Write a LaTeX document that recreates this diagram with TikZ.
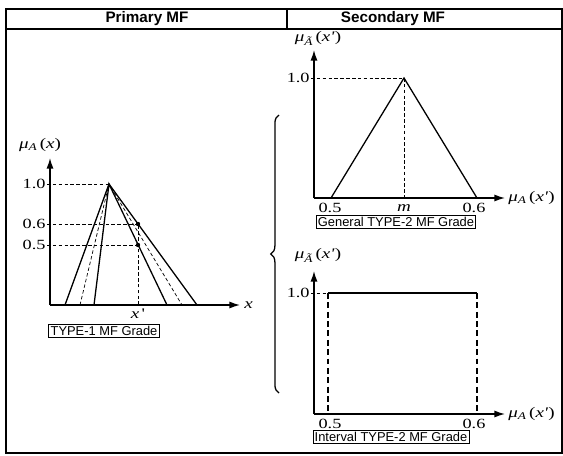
\documentclass[tikz,border=0pt]{standalone}
\usepackage{fontspec}
\setmainfont{Liberation Serif}
\setsansfont{Liberation Sans}
\newfontfamily\lblfont[FakeStretch=1.3]{Liberation Serif}
\usetikzlibrary{arrows.meta,decorations.pathreplacing}
\newcommand{\memb}[2]{\textit{μ}\textsubscript{\textit{#1}}\,(\textit{#2})}

\begin{document}
\begin{tikzpicture}[x=0.3mm,y=-0.3mm,
  frame/.style={line width=1.1pt},
  axis/.style={line width=1.2pt,-{Latex[length=9pt,width=6pt]}},
  curve/.style={line width=1.1pt},
  guide/.style={line width=0.6pt, dash pattern=on 3pt off 2pt},
  thickguide/.style={line width=1.1pt, dash pattern=on 5pt off 3pt},
  gradebox/.style={draw, line width=0.7pt, font=\sffamily\fontsize{11}{12}\selectfont, inner sep=1.5pt},
  hdr/.style={font=\sffamily\bfseries\fontsize{13}{15}\selectfont},
  tick/.style={font=\lblfont\fontsize{12}{13}\selectfont, inner sep=1pt},
  lbl/.style={font=\lblfont\fontsize{12.5}{14}\selectfont, inner sep=1pt}]
\useasboundingbox (0,0) rectangle (563,455);

% frame and header
\draw[frame] (6,9) rectangle (562,453);
\draw[frame] (6,29) -- (562,29);
\draw[frame] (287,9) -- (287,29);
\node[hdr] (hprim) at (147,19) {Primary MF};
\node[hdr] (hsec) at (393,19) {Secondary MF};

% primary MF
\coordinate (o1) at (50,305);
\coordinate (peak) at (109,184);
\coordinate (d6) at (138,224);
\coordinate (d5) at (138,245);
\draw[axis] (o1) -- (50,158);
\draw[axis] (o1) -- (240,305);
\node[lbl] (muA) at (40,145) {\memb{A}{x}};
\node[lbl, anchor=west] (xl) at (243,305) {\textit{x}};
\node[tick, anchor=east] (t10) at (47,184) {1.0};
\node[tick, anchor=east] (t06) at (47,224) {0.6};
\node[tick, anchor=east] (t05) at (47,245) {0.5};
\draw[guide] (t10.east) -- (peak);
\draw[guide] (t06.east) -- (d6);
\draw[guide] (t05.east) -- (d5);
\draw[guide] (138,305) -- (d6);
\draw[curve] (65,305) -- (peak) -- (197,305);
\draw[curve] (94,305) -- (peak) -- (167,305);
\draw[guide] (80,305) -- (peak) -- (182,305);
\fill (d6) circle (2.2);
\fill (d5) circle (2.2);
\node[lbl] (xp) at (138,314) {\textit{x}\,'};
\node[gradebox] (g1) at (104,331) {TYPE-1 MF Grade};

% brace
\draw[line width=1.1pt, decorate,
  decoration={brace, amplitude=7pt}] (279,393) -- (279,115);

% general type-2
\coordinate (o2) at (314,198);
\coordinate (top2) at (404,78);
\draw[axis] (o2) -- (314,50);
\draw[axis] (o2) -- (505,198);
\node[lbl] (mu2) at (318,38) {\memb{Ã}{x'}};
\node[lbl, anchor=west] (ax2) at (507,198) {\memb{A}{x'}};
\node[tick, anchor=east] (u10) at (311,78) {1.0};
\draw[guide] (u10.east) -- (top2);
\draw[guide] (top2) -- (404,198);
\draw[curve] (331,198) -- (top2) -- (477,198);
\node[tick] (u05) at (330,208) {0.5};
\node[lbl] (um) at (404,208) {\textit{m}};
\node[tick] (u06) at (474,208) {0.6};
\node[gradebox] (g2) at (396,222) {General TYPE-2 MF Grade};

% interval type-2
\coordinate (o3) at (314,414);
\coordinate (lo3) at (328,293);
\coordinate (hi3) at (477,293);
\draw[axis] (o3) -- (314,271);
\draw[axis] (o3) -- (505,414);
\node[lbl] (mu3) at (318,255) {\memb{Ã}{x'}};
\node[lbl, anchor=west] (ax3) at (507,414) {\memb{A}{x'}};
\node[tick, anchor=east] (v10) at (311,293) {1.0};
\draw[guide] (v10.east) -- (lo3);
\draw[curve] (lo3) -- (hi3);
\draw[thickguide] (lo3) -- (328,414);
\draw[thickguide] (hi3) -- (477,414);
\node[tick] (v05) at (330,424) {0.5};
\node[tick] (v06) at (474,424) {0.6};
\node[gradebox] (g3) at (391,437) {Interval TYPE-2 MF Grade};
\end{tikzpicture}
\end{document}
